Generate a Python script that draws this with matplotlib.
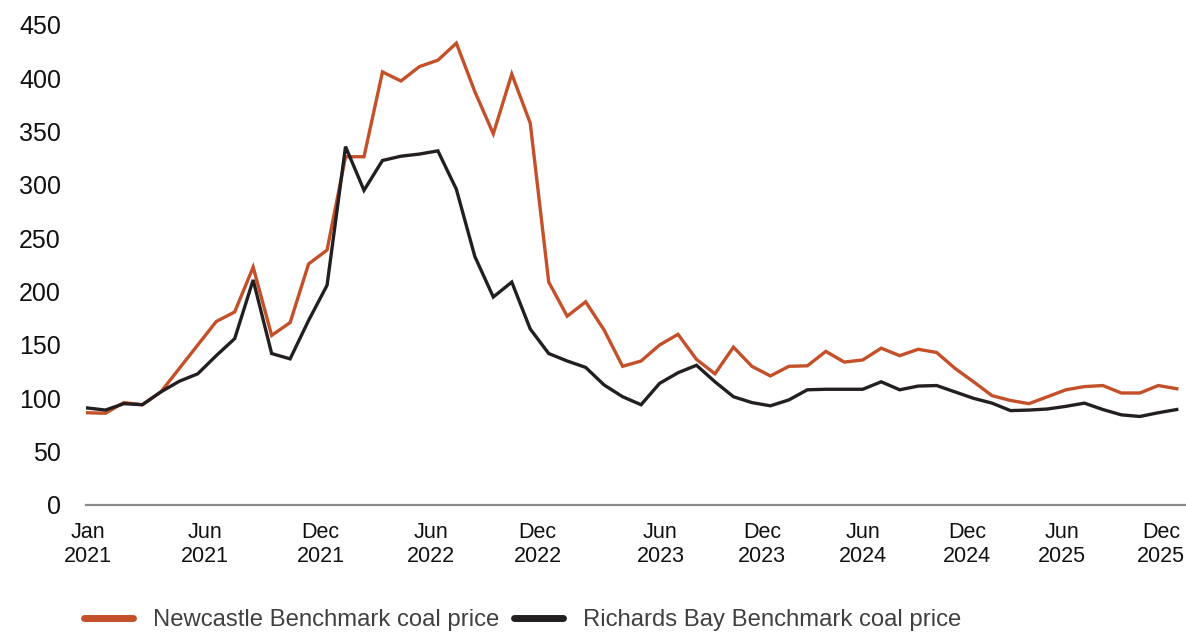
import numpy as np
import matplotlib
matplotlib.use("Agg")
import matplotlib.pyplot as plt

plt.rcParams['font.family'] = ['Liberation Sans', 'DejaVu Sans']

#%% Monthly benchmark coal prices, Jan 2021 - Dec 2025 (USD/t)
newcastle = [86.5, 86, 96, 94, 106, 128, 150, 172, 181, 223,
             159, 171, 226, 239, 326.5, 326.5, 406, 397.5, 411, 417,
             433, 387.5, 348, 404, 358, 209, 177, 190.5, 164, 130,
             135, 150, 160, 136.5, 123, 148, 130, 121, 130, 130.5,
             144, 134, 136, 147, 140, 146, 143, 128, 115.5, 102.5,
             98, 95, 101.5, 108, 111, 112, 105, 105, 112, 109]
richards_bay = [91, 89, 95, 94, 106, 116, 123, 140, 156, 211,
                142, 137, 173, 206, 336, 295, 323, 327, 329, 332,
                296, 233, 195, 209, 165, 142, 135, 129, 112.5, 101.5,
                94, 114, 124, 131, 115.5, 101.5, 96, 93, 98.5, 108,
                108.5, 108.5, 108.5, 115.5, 108, 111.5, 112, 106, 100, 95.5,
                88.5, 89, 90, 92.5, 95.5, 89.5, 84.5, 83, 86.5, 89.5]

# category axis labels (placed as on the original chart axis)
tick_pos = [0.05, 6.4, 12.65, 18.65, 24.4, 31.05, 36.55, 42.0, 47.65, 52.8, 58.15]
tick_lab = ['Jan\n2021', 'Jun\n2021', 'Dec\n2021', 'Jun\n2022', 'Dec\n2022',
            'Jun\n2023', 'Dec\n2023', 'Jun\n2024', 'Dec\n2024', 'Jun\n2025', 'Dec\n2025']

months = np.arange(len(newcastle))

#%% Plot
fig = plt.figure(figsize=(11.86, 6.32), dpi=100)
ax = fig.add_axes([86 / 1186, 127 / 632, 1100 / 1186, 480 / 632])

ax.plot(months, newcastle, color='#C4502A', lw=2.4, solid_joinstyle='miter',
        label='Newcastle Benchmark coal price')
ax.plot(months, richards_bay, color='#231F20', lw=2.4, solid_joinstyle='miter',
        label='Richards Bay Benchmark coal price')

ax.set_xlim(-0.05, 59.5)
ax.set_ylim(0, 450)
ax.set_yticks(np.arange(0, 451, 50))
ax.set_xticks(tick_pos)
ax.set_xticklabels(tick_lab, fontsize=15.5, color='#111111', linespacing=1.2)
ax.tick_params(axis='y', length=0, pad=18, labelsize=18, labelcolor='#111111')
ax.tick_params(axis='x', length=0, pad=12)

for s in ['top', 'right', 'left']:
    ax.spines[s].set_visible(False)
ax.spines['bottom'].set_color('#8C8C8C')
ax.spines['bottom'].set_linewidth(1.6)

leg = fig.legend(loc='center left', bbox_to_anchor=(84 / 1186, 1 - 620 / 632), ncol=2,
                 frameon=False, fontsize=17.2, handlelength=2.05, handletextpad=0.85,
                 columnspacing=0.6, borderaxespad=0, borderpad=0)
for line in leg.get_lines():
    line.set_linewidth(5)
    line.set_solid_capstyle('round')
for t in leg.get_texts():
    t.set_color('#404040')

fig.savefig('out.png', dpi=100)
